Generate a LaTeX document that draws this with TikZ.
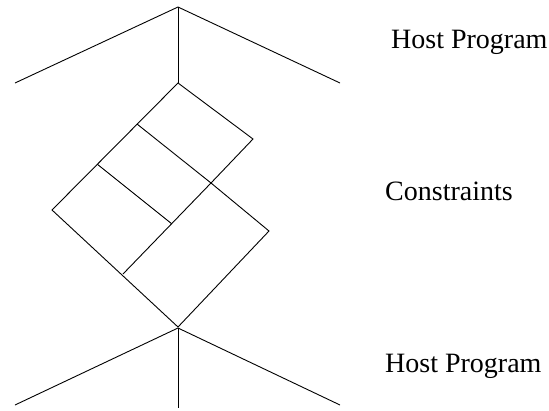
\documentclass[tikz,border=0pt]{standalone}
\usepackage{fontspec}
\setmainfont{Liberation Serif}
\tikzset{label/.style = {anchor=base west, inner sep=0pt, font=\fontsize{28}{34}\selectfont},
	line/.style  = {draw, line width=0.9pt}
}

\begin{document}
\begin{tikzpicture}[x=1pt, y=-1pt]
	\useasboundingbox (0,0) rectangle (549,410);
	%% upper host program: apex, two branches and a stem
	\coordinate (ha) at (178,7);
	\coordinate (hl) at (15,83);
	\coordinate (hr) at (340,83);
	%% corners and inner points of the constraint block
	\coordinate (ct) at (178,83);
	\coordinate (cu) at (253,139);
	\coordinate (cx) at (211,183);
	\coordinate (cr) at (269,231);
	\coordinate (cb) at (178,327);
	\coordinate (cl) at (52,210);
	\coordinate (ca) at (137,124);
	\coordinate (cc) at (97,164);
	\coordinate (cd) at (172,224);
	\coordinate (ce) at (123,274);
	%% lower host program
	\coordinate (la) at (178,328);
	\coordinate (ll) at (15,405);
	\coordinate (lr) at (340,405);
	\coordinate (ls) at (178,408);

	\path[line] (hl) -- (ha) -- (hr);
	\path[line] (ha) -- (ct);
	\path[line] (ct) -- (cu) -- (cx) -- (cr) -- (cb) -- (cl) -- cycle;
	\path[line] (ca) -- (cx);
	\path[line] (cc) -- (cd);
	\path[line] (cx) -- (ce);
	\path[line] (ll) -- (la) -- (lr);
	\path[line] (la) -- (ls);

	\node [label] (host1) at (391,48) {Host Program};
	\node [label] (cons) at (385,200) {Constraints};
	\node [label] (host2) at (385,372) {Host Program};
\end{tikzpicture}
\end{document}
